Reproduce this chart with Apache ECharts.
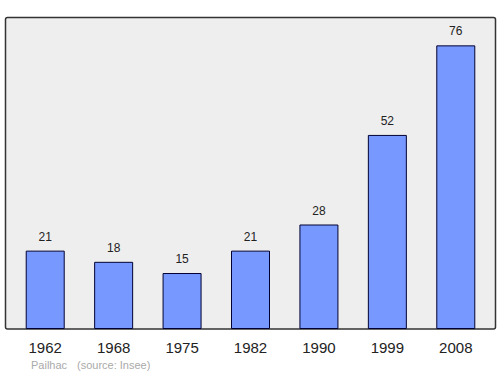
<!DOCTYPE html>
<html><head><meta charset="utf-8">
<script src="https://cdn.jsdelivr.net/npm/echarts@6/dist/echarts.min.js"></script>
<style>html,body{margin:0;padding:0;background:#fff}#c{width:500px;height:374px}</style>
</head><body><div id="c"></div>
<script>
var categories = ['1962','1968','1975','1982','1990','1999','2008'];
var population = [21, 18, 15, 21, 28, 52, 76];
var placeName = 'Pailhac';
var sourceText = '(source: Insee)';

var FONT = '"Liberation Sans", Arial, sans-serif';
var chart = echarts.init(document.getElementById('c'), null, {renderer:'svg'});
chart.setOption({
  animation: false,
  backgroundColor: '#ffffff',
  graphic: [
    {type:'rect', z:-10, shape:{x:5.5, y:17.5, width:490, height:311.5, r:2},
     style:{fill:'#eeeeee', stroke:'#333333', lineWidth:1.5}},
    {type:'text', left:31, top:359, style:{text:placeName, fill:'#aaaaaa', font:'11px ' + FONT}},
    {type:'text', left:77, top:359, style:{text:sourceText, fill:'#aaaaaa', font:'11px ' + FONT}}
  ],
  grid: {left:11, right:10, top:17, bottom:45},
  xAxis: {
    type:'category', data:categories,
    axisLine:{show:false}, axisTick:{show:false},
    axisLabel:{color:'#222', fontSize:15, margin:11, fontFamily:FONT}
  },
  yAxis: {
    type:'value', min:0, max:83.6,
    show:false, splitLine:{show:false}
  },
  series: [{
    type:'bar', data:population, barWidth:39,
    itemStyle:{color:'#7799ff', borderColor:'#000033', borderWidth:1},
    label:{show:true, position:'top', distance:8, color:'#222', fontSize:12, fontFamily:FONT}
  }]
});
</script></body></html>
